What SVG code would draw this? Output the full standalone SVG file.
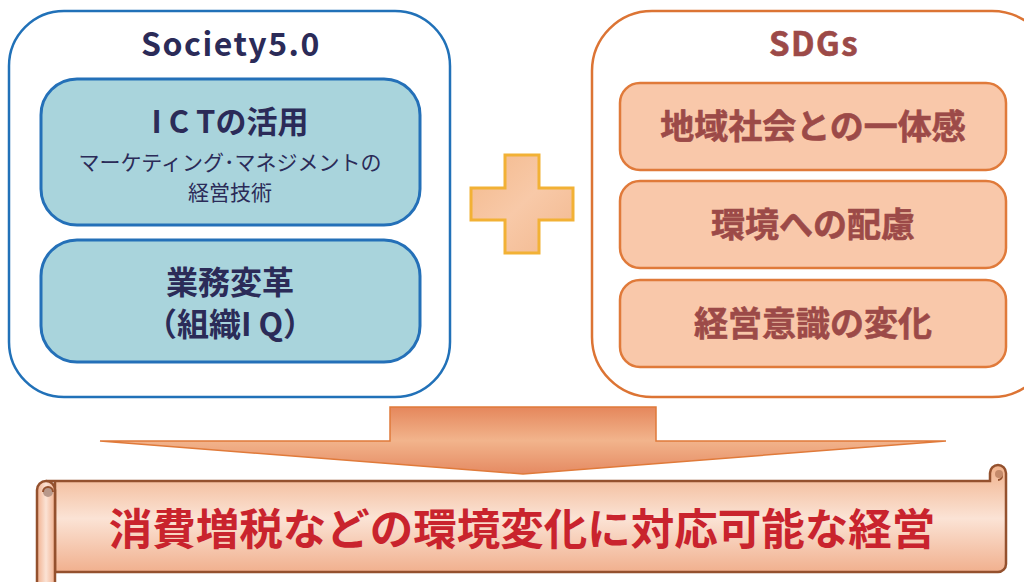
<svg xmlns="http://www.w3.org/2000/svg" width="1024" height="582" viewBox="0 0 1024 582">
<defs>
<linearGradient id="plusGrad" x1="0" y1="0" x2="1" y2="1">
<stop offset="0" stop-color="#f3b98c"/>
<stop offset="0.5" stop-color="#f8c9a8"/>
<stop offset="1" stop-color="#f2b88e"/>
</linearGradient>
<linearGradient id="arrowGrad" x1="0" y1="0" x2="0" y2="1">
<stop offset="0" stop-color="#e5875c"/>
<stop offset="0.5" stop-color="#f2b48c"/>
<stop offset="1" stop-color="#e58a62"/>
</linearGradient>
<linearGradient id="scrollGrad" x1="0" y1="0" x2="0" y2="1">
<stop offset="0" stop-color="#f1b28c"/>
<stop offset="0.5" stop-color="#fbe3d5"/>
<stop offset="1" stop-color="#f1b08e"/>
</linearGradient>
<linearGradient id="rollGrad" x1="0" y1="0" x2="1" y2="0">
<stop offset="0" stop-color="#f1b08e"/>
<stop offset="0.5" stop-color="#fbe3d5"/>
<stop offset="1" stop-color="#f1b08e"/>
</linearGradient>
<style>
.jp{font-family:"Noto Sans CJK JP","Noto Sans",sans-serif;text-anchor:middle}
.outerL{fill:#ffffff;stroke:#2171b8;stroke-width:2.5}
.outerR{fill:#ffffff;stroke:#dc7434;stroke-width:2.5}
.innerL{fill:#a9d4dc;stroke:#2470b8;stroke-width:3}
.innerR{fill:#f9c8aa;stroke:#e07a3a;stroke-width:2.5}
.navy{fill:#2b2b58}
.rust{fill:#9c4a48;stroke:#9c4a48;stroke-width:0.6}
.scroll{stroke:#94512e;stroke-width:2.5}
</style>
</defs>

<g id="society50">
<rect class="outerL" x="9" y="11" width="441" height="386" rx="55"/>
<text class="jp navy" x="231" y="56" font-size="32" font-weight="bold" letter-spacing="1.5">Society5.0</text>
</g>

<g id="ict">
<rect class="innerL" x="41" y="79" width="379" height="146" rx="36"/>
<text class="jp navy" x="230" y="133" font-size="31" font-weight="bold"><tspan letter-spacing="7">IC</tspan>Tの活用</text>
<text class="jp navy" x="230" y="170" font-size="21">マーケティング･マネジメントの</text>
<text class="jp navy" x="230" y="200" font-size="21">経営技術</text>
</g>

<g id="gyomu">
<rect class="innerL" x="41" y="240" width="379" height="122" rx="36"/>
<text class="jp navy" x="230" y="294" font-size="32" font-weight="bold">業務変革</text>
<text class="jp navy" x="230" y="336" font-size="32" font-weight="bold">（組織<tspan letter-spacing="7">I</tspan>Q）</text>
</g>

<g id="sdgs">
<rect class="outerR" x="592" y="11" width="460" height="386" rx="60"/>
<text class="jp rust" x="814" y="56" font-size="33" font-weight="bold" letter-spacing="1.5">SDGs</text>
</g>

<g id="chiiki">
<rect class="innerR" x="620" y="83" width="386" height="87" rx="20"/>
<text class="jp rust" x="813" y="139" font-size="34" font-weight="bold">地域社会との一体感</text>
</g>

<g id="kankyo">
<rect class="innerR" x="620" y="181" width="386" height="87" rx="20"/>
<text class="jp rust" x="813" y="237" font-size="34" font-weight="bold">環境への配慮</text>
</g>

<g id="ishiki">
<rect class="innerR" x="620" y="280" width="386" height="87" rx="20"/>
<text class="jp rust" x="813" y="336" font-size="34" font-weight="bold">経営意識の変化</text>
</g>

<g id="plus">
<path d="M505 155 H539 V188 H573 V220 H539 V253 H505 V220 H471 V188 H505 Z" fill="url(#plusGrad)" stroke="#f2b135" stroke-width="3"/>
</g>

<g id="connectors">
<path d="M390 407 H656 V441 H946 L523 474 L100 441 H390 Z" fill="url(#arrowGrad)" stroke="#e07a3a" stroke-width="1.5"/>
</g>

<g id="result">
<path class="scroll" d="M46 481 H990 V473 A8 8 0 0 1 1006 473 V564 A8 8 0 0 1 998 572 H55 V481 Z" fill="url(#scrollGrad)"/>
<path d="M998 472 A4 4 0 0 1 998 480" fill="none" stroke="#94512e" stroke-width="2"/>
<circle cx="999" cy="474" r="4" fill="#c48a6a"/>
<path class="scroll" d="M37 592 V490 A9 9 0 0 1 55 490 V592 Z" fill="url(#rollGrad)"/>
<circle cx="48" cy="492" r="5" fill="#b8988a"/>
<path d="M43 492 A5 5 0 0 1 53 492" fill="none" stroke="#94512e" stroke-width="2"/>
<text class="jp" x="522" y="545" font-size="43.5" font-weight="bold" fill="#c9232d">消費増税などの環境変化に対応可能な経営</text>
</g>
</svg>
